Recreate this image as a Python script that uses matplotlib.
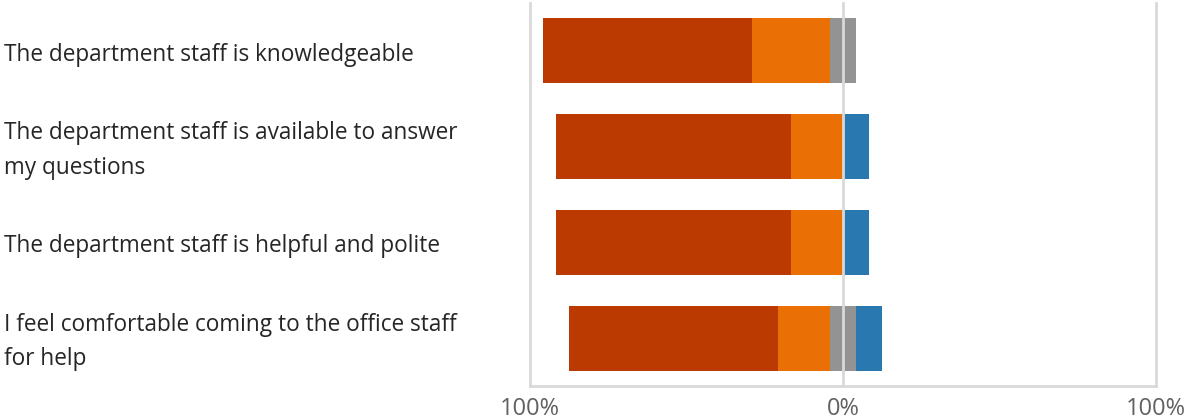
import matplotlib.pyplot as plt
import matplotlib.transforms as mtransforms
import numpy as np

# survey answers per statement, percent of respondents
statements = [
    'The department staff is knowledgeable',
    'The department staff is available to answer\nmy questions',
    'The department staff is helpful and polite',
    'I feel comfortable coming to the office staff\nfor help',
]
strongly_agree = [66.7, 75.0, 75.0, 66.7]
agree = [25.0, 16.7, 16.7, 16.7]
neutral = [8.3, 0.0, 0.0, 8.3]
disagree = [0.0, 8.3, 8.3, 8.3]

tick_values = [-100, 0, 100]
tick_labels = ['100%', '0%', '100%']

c_sa = '#BA3A02'
c_a = '#EA7006'
c_n = '#939393'
c_d = '#2978B0'

sa = np.array(strongly_agree)
a = np.array(agree)
n = np.array(neutral)
d = np.array(disagree)
y = np.arange(len(statements))

fig = plt.figure(figsize=(11.87, 4.2), dpi=100)
ax = fig.add_axes([0.4465, 0.081, 0.5274, 0.912])

# agreement goes left of zero, neutral is split over the middle
left_n = -n / 2
left_a = left_n - a
left_sa = left_a - sa
h = 0.68
ax.barh(y, sa, left=left_sa, height=h, color=c_sa, zorder=2)
ax.barh(y, a, left=left_a, height=h, color=c_a, zorder=2)
ax.barh(y, n, left=left_n, height=h, color=c_n, zorder=2)
ax.barh(y, d, left=n / 2, height=h, color=c_d, zorder=2)

ax.set_xlim(-100, 100)
ax.set_ylim(len(statements) - 0.5, -0.5)

for v in tick_values:
    ax.axvline(v, color='#D9D9D9', lw=2, zorder=3, clip_on=False)

for s in ['left', 'right', 'top']:
    ax.spines[s].set_visible(False)
ax.spines['bottom'].set_color('#D9D9D9')
ax.spines['bottom'].set_linewidth(2)

ax.set_xticks(tick_values)
ax.set_xticklabels(tick_labels, fontsize=17, color='#616161', family='Open Sans')
ax.tick_params(axis='x', length=0, pad=8)
ax.set_yticks([])

# category labels sit at the left edge of the figure
lab_tr = mtransforms.blended_transform_factory(fig.transFigure, ax.transData)
for i, s in enumerate(statements):
    ax.text(0.0034, y[i] + 0.04, s, transform=lab_tr,
            ha='left', va='center', fontsize=16.3, color='#262626',
            family='Open Sans', linespacing=1.6)

fig.savefig('out.png')
